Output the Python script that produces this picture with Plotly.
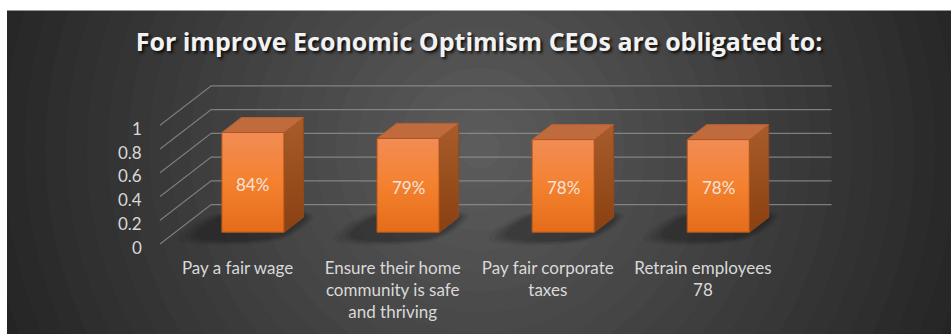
import math
import plotly.graph_objects as go

# ---- data -------------------------------------------------------------
categories = [
    "Pay a fair wage",
    "Ensure their home<br>community is safe<br>and thriving",
    "Pay fair corporate<br>taxes",
    "Retrain employees<br>78",
]
values = [0.84, 0.79, 0.78, 0.78]
tick_values = [0, 0.2, 0.4, 0.6, 0.8, 1]
tick_labels = ["0", "0.2", "0.4", "0.6", "0.8", "1"]
title_text = "For improve Economic Optimism CEOs are obligated to:"

# ---- layout geometry -------------------------------------------------
W, H = 951, 334
ML, MR, MT, MB = 160, 93, 66, 76
X_RANGE = [-0.5, 4.0]
Y_RANGE = [-0.1, 1.5]

# oblique projection of the depth axis
DX, DY = 0.33, 0.333          # shift (in axis units) for full depth
D0, D1 = 0.30, 0.68           # bar depth extent
HALF = 0.2                    # half width of the bar front face
FLOOR_LEFT, FLOOR_RIGHT = -0.5, 3.5


def proj(x, v, d):
    return x + d * DX, v + d * DY


plot_w = W - ML - MR
plot_h = H - MT - MB


def px_to_paper(px, py):
    return (px - ML) / plot_w, (H - MB - py) / plot_h


fig = go.Figure()

# ---- walls: gridlines on back wall and left side wall -----------------
grid_col = "rgba(150,150,150,0.75)"
for t in tick_values:
    bx0, by = proj(FLOOR_LEFT, t, 1)
    bx1, _ = proj(FLOOR_RIGHT, t, 1)
    fx, fy = proj(FLOOR_LEFT, t, 0)
    fig.add_trace(go.Scatter(
        x=[fx, bx0, bx1], y=[fy, by, by], mode="lines",
        line=dict(color=grid_col, width=1.2), hoverinfo="skip",
        showlegend=False, cliponaxis=False))

# ---- soft floor shadows under each bar (footprint pushed to the left) ----
for i, v in enumerate(values):
    for grow, a in [(0.10, 0.06), (0.07, 0.07), (0.045, 0.08), (0.02, 0.09)]:
        xl, xr = i - HALF - 0.12 - grow, i + HALF + grow * 0.5
        d_front, d_back = D0 - 0.08 - grow, D1 + grow * 0.5
        p1 = proj(xl, 0, d_front); p2 = proj(xr, 0, d_front)
        p3 = proj(xr, 0, d_back); p4 = proj(xl, 0, d_back)
        fig.add_trace(go.Scatter(
            x=[p1[0], p2[0], p3[0], p4[0], p1[0]],
            y=[p1[1], p2[1], p3[1], p4[1], p1[1]],
            mode="lines", fill="toself", line=dict(width=0),
            fillcolor=f"rgba(0,0,0,{a})", line_shape="spline",
            hoverinfo="skip", showlegend=False))

# ---- 3D bars ----------------------------------------------------------------
edge = dict(color="#b0561a", width=1)
for i, v in enumerate(values):
    xl, xr = i - HALF, i + HALF
    # front face corners
    fbl = proj(xl, 0, D0); fbr = proj(xr, 0, D0)
    ftl = proj(xl, v, D0); ftr = proj(xr, v, D0)
    # back corners
    btl = proj(xl, v, D1); btr = proj(xr, v, D1)
    bbr = proj(xr, 0, D1)

    # right side face
    fig.add_trace(go.Scatter(
        x=[fbr[0], ftr[0], btr[0], bbr[0], fbr[0]],
        y=[fbr[1], ftr[1], btr[1], bbr[1], fbr[1]],
        mode="lines", fill="toself",
        fillgradient=dict(type="vertical",
                          colorscale=[[0, "#8a4010"], [1, "#a85c2c"]]),
        line=dict(color="#96481a", width=1),
        hoverinfo="skip", showlegend=False))
    # top face
    fig.add_trace(go.Scatter(
        x=[ftl[0], btl[0], btr[0], ftr[0], ftl[0]],
        y=[ftl[1], btl[1], btr[1], ftr[1], ftl[1]],
        mode="lines", fill="toself", fillcolor="#c06b3e",
        line=dict(color="#b46030", width=1),
        hoverinfo="skip", showlegend=False))
    # front face
    fig.add_trace(go.Scatter(
        x=[fbl[0], ftl[0], ftr[0], fbr[0], fbl[0]],
        y=[fbl[1], ftl[1], ftr[1], fbr[1], fbl[1]],
        mode="lines", fill="toself",
        fillgradient=dict(type="vertical",
                          colorscale=[[0, "#e46c1a"], [0.5, "#f4812f"], [1, "#f28c55"]]),
        line=edge, hoverinfo="skip", showlegend=False))

# value labels centred on the front faces
annotations = []
for i, v in enumerate(values):
    x, y = proj(i, v / 2, D0)
    annotations.append(dict(
        x=x, y=y, xref="x", yref="y", text=f"{v:.0%}", showarrow=False,
        xanchor="center", yanchor="middle", yshift=-2,
        font=dict(family="Lato", size=17, color="#f3e4dc")))

# value-axis labels on the front plane of the left wall
for t, lab in zip(tick_values, tick_labels):
    x, y = proj(FLOOR_LEFT, t, 0)
    annotations.append(dict(
        x=x, y=y, xref="x", yref="y", text=lab, showarrow=False,
        xanchor="right", yanchor="middle", xshift=-16, yshift=-3,
        font=dict(family="Lato", size=17, color="#d9d9d9")))

# ---- background: radial gradient built from concentric discs ----------------
shapes = []
cx_px, cy_px = 480, 150
n_rings = 28
r_max = 560
c_in, c_out = (92, 92, 92), (30, 30, 30)
for k in range(n_rings):
    f = k / (n_rings - 1)
    r = r_max * (1 - f) + 20
    col = tuple(int(c_out[j] + (c_in[j] - c_out[j]) * f) for j in range(3))
    x0, y0 = px_to_paper(cx_px - r, cy_px + r)
    x1, y1 = px_to_paper(cx_px + r, cy_px - r)
    shapes.append(dict(type="circle", xref="paper", yref="paper",
                       x0=x0, y0=y0, x1=x1, y1=y1, layer="below",
                       fillcolor=f"rgb{col}", line=dict(width=0)))
# white strips along the top and left edges
a0, b0 = px_to_paper(0, 0)
a1, b1 = px_to_paper(W, 10)
shapes.append(dict(type="rect", xref="paper", yref="paper", x0=a0 - 0.1, y0=b1,
                   x1=a1 + 0.1, y1=b0 + 0.2, layer="below",
                   fillcolor="white", line=dict(width=0)))
a0, b0 = px_to_paper(0, 0)
a1, b1 = px_to_paper(7, H)
shapes.append(dict(type="rect", xref="paper", yref="paper", x0=a0 - 0.1, y0=b1 - 0.2,
                   x1=a1, y1=b0 + 0.2, layer="below",
                   fillcolor="white", line=dict(width=0)))

fig.update_layout(
    width=W, height=H,
    margin=dict(l=ML, r=MR, t=MT, b=MB),
    paper_bgcolor="#2a2a2a",
    plot_bgcolor="rgba(0,0,0,0)",
    shapes=shapes,
    annotations=annotations,
    title=dict(
        text=title_text, x=479 / W, xanchor="center",
        y=1 - 42 / H, yanchor="middle", yref="container",
        font=dict(family="Open Sans", size=25, weight="bold", color="#f2f2f2",
                  shadow="2px 2px 3px rgba(0,0,0,0.85)")),
    xaxis=dict(range=X_RANGE, showgrid=False, zeroline=False, showline=False,
               tickmode="array", tickvals=list(range(len(categories))),
               ticktext=categories, ticks="",
               tickfont=dict(family="Lato", size=17, color="#d9d9d9")),
    yaxis=dict(range=Y_RANGE, showgrid=False, zeroline=False, showline=False,
               showticklabels=False),
)

fig.write_html("out.html")
